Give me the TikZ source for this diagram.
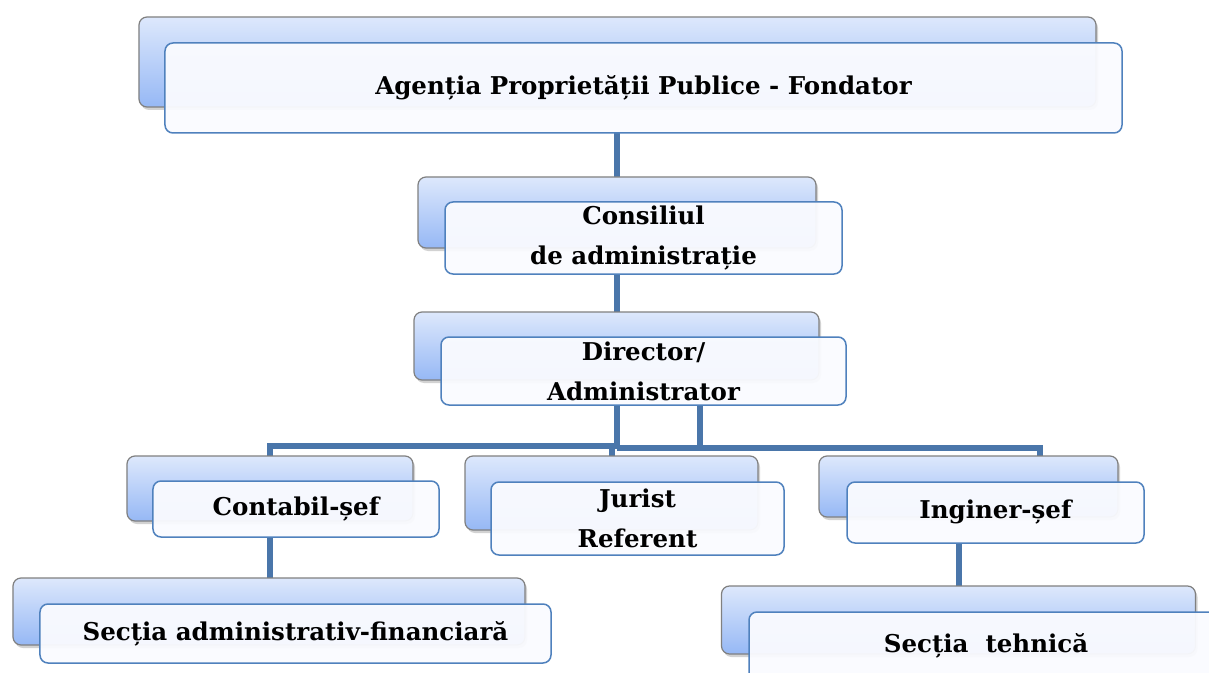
\documentclass[tikz,border=0pt]{standalone}
\usepackage{fontspec}
\setmainfont{DejaVu Serif}
\usetikzlibrary{shadows}
\definecolor{backtop}{RGB}{221,232,252}
\definecolor{backbot}{RGB}{150,184,245}
\definecolor{backline}{RGB}{128,128,128}
\definecolor{frontline}{RGB}{79,129,189}
\definecolor{frontfill}{RGB}{250,251,255}
\definecolor{conn}{RGB}{74,118,170}
\tikzset{
  backbox/.style={draw=backline, line width=1.2bp, rounded corners=8bp,
    top color=backtop, bottom color=backbot, inner sep=0pt,
    drop shadow={shadow xshift=2bp, shadow yshift=-3bp, opacity=0.35},
    minimum width=#1},
  frontbox/.style={draw=frontline, line width=1.5bp, rounded corners=8bp,
    fill=frontfill, fill opacity=0.95, text opacity=1, inner sep=0pt,
    align=center, font=\bfseries\fontsize{24.5bp}{40bp}\selectfont,
    minimum width=#1},
  connector/.style={draw=conn, line width=5.5bp}
}
\begin{document}
\begin{tikzpicture}[x=1bp, y=-1bp]
\clip (0,0) rectangle (1209,673);
\fill[white] (0,0) rectangle (1209,673);
% named coordinates for the bus
\coordinate (busL) at (617,446);
\coordinate (busR) at (700,448);
\coordinate (busE) at (1040,448);
\coordinate (busJ) at (612,448);
\coordinate (dirL) at (617,405);
\coordinate (dirR) at (700,405);
\coordinate (ingTop) at (1040,456);
\path
  (617.5,62)  coordinate (cbtop)
  (617,212.5) coordinate (cbcons)
  (616.5,346) coordinate (cbdir)
  (270,488.5) coordinate (cbcont)
  (611.5,493) coordinate (cbjur)
  (968.5,486.5) coordinate (cbing)
  (269,611.5) coordinate (cbsaf)
  (958.5,620) coordinate (cbst);
% connectors
\draw[connector] (617,133) -- (617,178);
\draw[connector] (617,274) -- (617,313);
\draw[connector] (dirL) -- (busL) -- (270,446) -- (270,457);
\draw[connector] (dirR) -- (busR);
\draw[connector] (617,448) -- (busE) -- (ingTop);
\draw[connector] (busJ) -- (612,457);
\draw[connector] (270,537) -- (270,579);
\draw[connector] (959,543) -- (959,587);
% top
\node[backbox=957bp, minimum height=90bp] (btop) at (cbtop) {};
\node[frontbox=957bp, minimum height=90bp] (ftop) at (643.5,88) {Agenția Proprietății Publice - Fondator};
% consiliul
\node[backbox=398bp, minimum height=71bp] (bcons) at (cbcons) {};
\node[frontbox=397bp, minimum height=72bp] (fcons) at (643.5,238) {Consiliul\\de administrație};
% director
\node[backbox=405bp, minimum height=68bp] (bdir) at (cbdir) {};
\node[frontbox=405bp, minimum height=68bp] (fdir) at (643.5,371) {Director/\\Administrator};
% contabil
\node[backbox=286bp, minimum height=65bp] (bcont) at (cbcont) {};
\node[frontbox=286bp, minimum height=56bp] (fcont) at (296,509) {Contabil-șef};
% jurist
\node[backbox=293bp, minimum height=74bp] (bjur) at (cbjur) {};
\node[frontbox=293bp, minimum height=73bp] (fjur) at (637.5,518.5) {Jurist\\Referent};
% inginer
\node[backbox=299bp, minimum height=61bp] (bing) at (cbing) {};
\node[frontbox=297bp, minimum height=61bp] (fing) at (995.5,512.5) {Inginer-șef};
% sectia adm-fin
\node[backbox=512bp, minimum height=67bp] (bsaf) at (cbsaf) {};
\node[frontbox=511bp, minimum height=59bp] (fsaf) at (295.5,633.5) {Secția administrativ-financiară};
% sectia tehnica
\node[backbox=474bp, minimum height=68bp] (bst) at (cbst) {};
\node[frontbox=474bp, minimum height=68bp] (fst) at (986,646) {Secția~~tehnică};
\end{tikzpicture}
\end{document}
